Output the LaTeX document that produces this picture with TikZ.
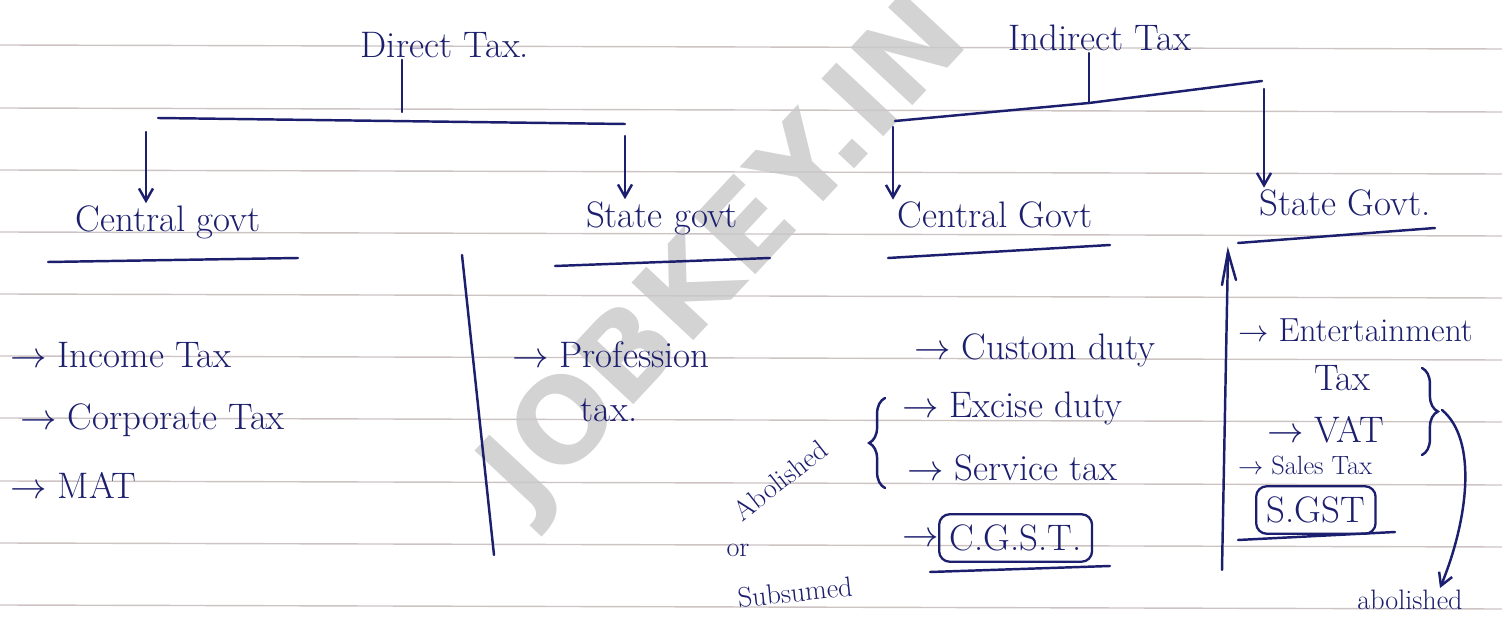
\documentclass[tikz,border=0pt]{standalone}
\usepackage{fontspec}
\setsansfont{DejaVu Sans}
\usetikzlibrary{arrows.meta,decorations.pathreplacing}
\definecolor{ink}{RGB}{28,30,110}
\definecolor{rule}{RGB}{205,195,195}
\definecolor{wm}{RGB}{200,200,200}
\begin{document}
\begin{tikzpicture}[x=0.02cm,y=-0.02cm,
  txt/.style={text=ink,font=\fontsize{21}{25}\selectfont,inner sep=1pt},
  small/.style={text=ink,font=\fontsize{16}{19}\selectfont,inner sep=1pt},
  pen/.style={draw=ink,line width=1.4pt,line cap=round},
  arr/.style={pen,-{Straight Barb[length=7pt,width=8pt]}},
  ul/.style={pen}]
\useasboundingbox (0,0) rectangle (1502,631);
% ruled paper
\foreach \yy in {45,108,170,232,294,356,418,481,543,605}
  \draw[rule,line width=0.8pt] (0,\yy) -- (1502,\yy+4);
% watermark
\node[text=wm,font=\sffamily\bfseries\fontsize{66}{70}\selectfont,rotate=47,opacity=0.8] (wm) at (728,258) {JOBKEY.IN};

% Direct tax
\node[txt] (dt) at (445,45) {Direct Tax.};
\coordinate (dtstem) at (402,112);
\coordinate (dtl) at (158,118);
\coordinate (dtr) at (625,124);
\draw[pen] (dt.south -| dtstem) -- (dtstem);
\draw[pen] (dtl) -- (dtr);
\node[txt] (cg1) at (168,222) {Central govt};
\node[txt] (sg1) at (662,218) {State govt};
\draw[arr] (dtl) ++(-12,14) coordinate (a1) -- (cg1.north -| a1);
\draw[arr] (dtr) ++(0,12) coordinate (a2) -- (sg1.north -| a2);
\draw[ul] (48,262) -- (298,258);
\draw[ul] (555,266) -- (770,258);

% Indirect tax
\node[txt] (it) at (1100,38) {Indirect Tax};
\coordinate (itl) at (895,121);
\coordinate (itr) at (1262,81);
\coordinate (itstem) at (1089,103);
\draw[pen] (it.south -| itstem) -- (itstem);
\draw[pen] (itl) -- (itstem) -- (itr);
\node[txt] (cg2) at (995,215) {Central Govt};
\node[txt] (sg2) at (1345,203) {State Govt.};
\draw[arr] (itl) ++(-2,6) coordinate (a3) -- (cg2.north -| a3);
\draw[arr] (itr) ++(2,8) coordinate (a4) -- (sg2.north -| a4);
\draw[ul] (888,258) -- (1110,245);
\draw[ul] (1238,243) -- (1435,228);

% dividers
\coordinate (d1t) at (462,255);
\coordinate (d1b) at (494,555);
\draw[pen] (d1t) -- (d1b);
\coordinate (d2t) at (1228,252);
\coordinate (d2b) at (1222,570);
\draw[pen] (1222,285) -- (d2t) -- (1236,280);
\draw[pen] (d2t) -- (d2b);

% Direct - central list
\node[txt,anchor=west] (i1) at (8,355) {$\rightarrow$ Income Tax};
\node[txt,anchor=west] (i2) at (18,420) {$\rightarrow$ Corporate Tax};
\node[txt,anchor=west] (i3) at (8,485) {$\rightarrow$ MAT};

% Direct - state list
\node[txt,anchor=west] (p1) at (510,355) {$\rightarrow$ Profession};
\node[txt,anchor=west] (p2) at (578,410) {tax.};

% Indirect - central list
\node[txt,anchor=west] (c1) at (912,350) {$\rightarrow$ Custom duty};
\node[txt,anchor=west] (c2) at (900,408) {$\rightarrow$ Excise duty};
\node[txt,anchor=west] (c3) at (905,468) {$\rightarrow$ Service tax};
\node[txt,anchor=west] (c4a) at (900,540) {$\rightarrow$};
\node[txt,anchor=west,draw=ink,line width=1.3pt,rounded corners=6pt,inner sep=6pt] (c4) at (938,538) {C.G.S.T.};
\draw[ul] (930,572) -- (1110,566);
\draw[pen,decorate,decoration={brace,amplitude=9pt}] (885,488) -- (885,398);
\node[small,rotate=38] (ab1) at (780,480) {Abolished};
\node[small] (ab2) at (738,550) {or};
\node[small,rotate=6] (ab3) at (795,592) {Subsumed};

% Indirect - state list
\node[txt,anchor=west,font=\fontsize{19}{23}\selectfont] (s1) at (1236,330) {$\rightarrow$ Entertainment};
\node[txt,anchor=west] (s1b) at (1312,378) {Tax};
\node[txt,anchor=west] (s2) at (1265,430) {$\rightarrow$ VAT};
\node[small,anchor=west,font=\fontsize{15}{18}\selectfont] (s3) at (1236,466) {$\rightarrow$ Sales Tax};
\node[txt,anchor=west,draw=ink,line width=1.3pt,rounded corners=6pt,inner sep=6pt] (s4) at (1255,510) {S.GST};
\draw[ul] (1238,540) -- (1395,532);
\draw[pen,decorate,decoration={brace,amplitude=9pt}] (1422,368) -- (1422,455);
\node[small] (ab4) at (1410,600) {abolished};
\draw[arr] (1442,410) .. controls (1478,440) and (1468,520) .. (ab4.north -| 1440,0);
\end{tikzpicture}
\end{document}
